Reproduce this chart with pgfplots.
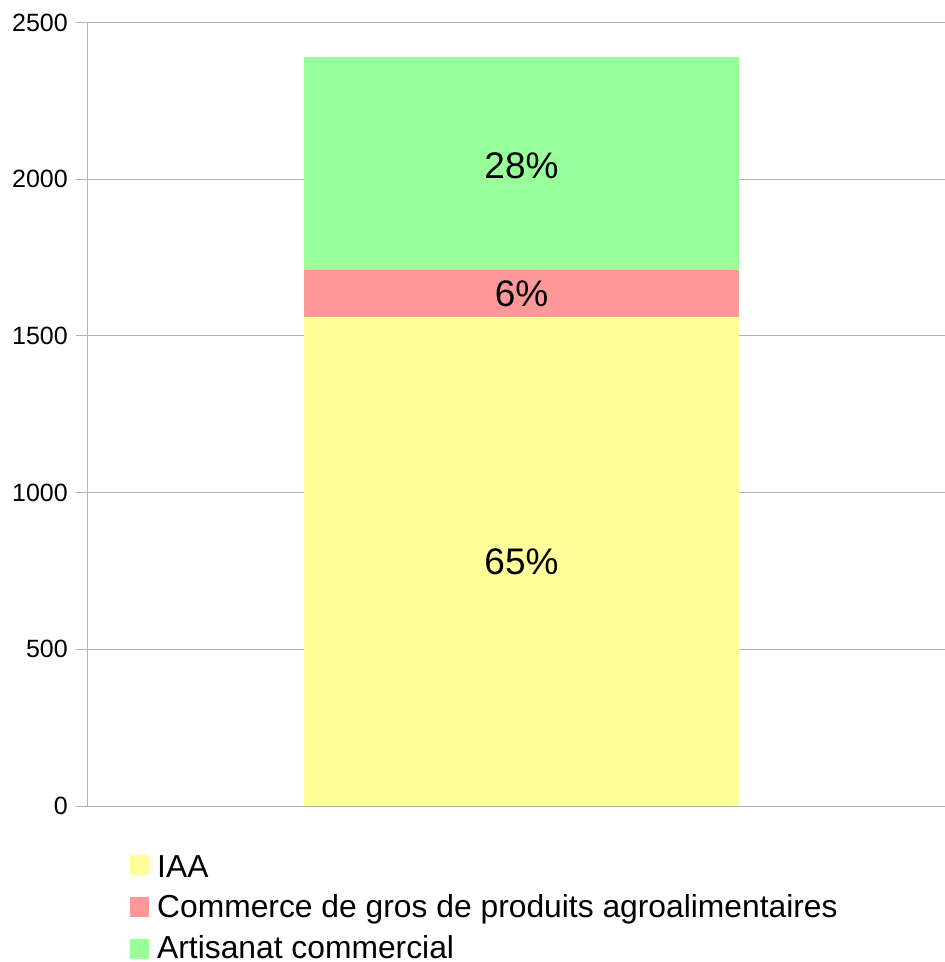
\documentclass[border=0pt]{standalone}
\usepackage{fontspec}
\setmainfont{Liberation Sans}
\usepackage{pgfplots}
\pgfplotsset{compat=1.18}

\definecolor{iaa}{HTML}{FFFF99}
\definecolor{gros}{HTML}{FF9999}
\definecolor{artisan}{HTML}{99FF99}
\definecolor{gridgray}{HTML}{B3B3B3}

\newcommand{\tickfont}{\fontsize{25}{30}\selectfont}
\newcommand{\legfont}{\fontsize{31.8}{38}\selectfont}
\newcommand{\pctfont}{\fontsize{37}{44}\selectfont}

\begin{document}
\begin{tikzpicture}
  \begin{axis}[%
    scale only axis,
    width=857pt, height=783.5pt,
    clip=false,
    % x-axis
    xmin=0, xmax=857,
    xtick=\empty,
    % y-axis
    ymin=0, ymax=2500,
    ytick={0,500,1000,1500,2000,2500},
    ymajorgrids=true,
    grid style={gridgray, line width=1pt},
    axis lines*=left,
    axis line style={gridgray, line width=1pt},
    tick align=outside,
    major tick length=12pt,
    tick style={gridgray, line width=1pt},
    yticklabel style={font=\tickfont, inner sep=0pt, xshift=-8pt, text=black},
    /pgf/number format/assume math mode=true,
    /pgf/number format/1000 sep={},
    ybar stacked,
    bar width=435pt,
    ]

    \addplot [fill=iaa, draw=none] coordinates {(433.5, 1561)};
    \addplot [fill=gros, draw=none] coordinates {(433.5, 149)};
    \addplot [fill=artisan, draw=none] coordinates {(433.5, 680)};

    % centres of the segments, labelled after the bars are drawn
    \coordinate (p1) at (axis cs:433.5, 778);
    \coordinate (p2) at (axis cs:433.5, 1635.5);
    \coordinate (p3) at (axis cs:433.5, 2043);
  \end{axis}

  \node[font=\pctfont] at (p1) {65\%};
  \node[font=\pctfont] at (p2) {6\%};
  \node[font=\pctfont] at (p3) {28\%};

  % legend
  \fill[iaa] (42pt,-49pt) rectangle (61pt,-69pt);
  \node[font=\legfont, anchor=base west, inner sep=0pt] at (69pt,-71pt) {IAA};
  \fill[gros] (42pt,-91pt) rectangle (61pt,-111pt);
  \node[font=\legfont, anchor=base west, inner sep=0pt] at (69pt,-111.5pt) {Commerce de gros de produits agroalimentaires};
  \fill[artisan] (42pt,-133pt) rectangle (61pt,-153pt);
  \node[font=\legfont, anchor=base west, inner sep=0pt] at (69pt,-152.5pt) {Artisanat commercial};

  \pgfresetboundingbox
  \path[use as bounding box] (-88pt,-156pt) rectangle (857pt,806pt);
\end{tikzpicture}
\end{document}
